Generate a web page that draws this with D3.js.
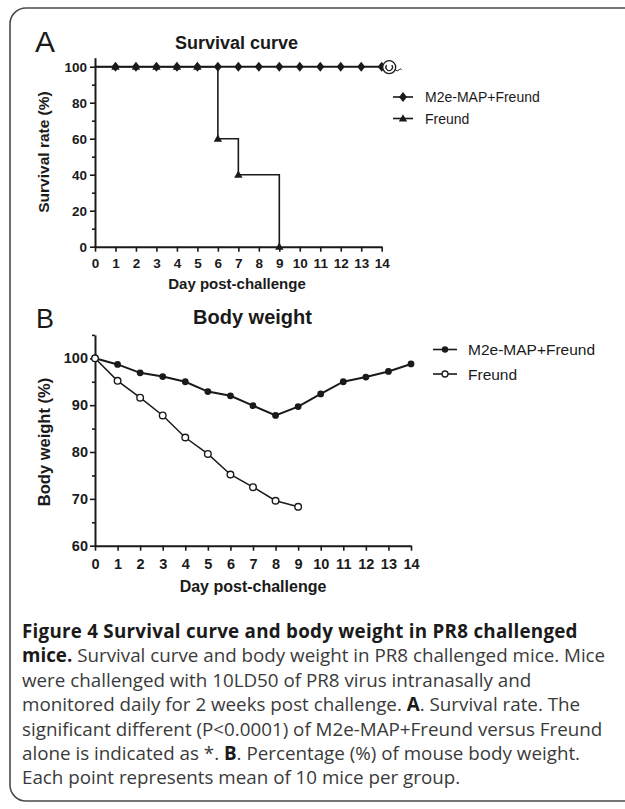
<!DOCTYPE html>
<html>
<head>
<meta charset="utf-8">
<script src="https://cdn.jsdelivr.net/npm/d3@7"></script>
<style>
  body { margin: 0; background: #fff; }
  svg { display: block; }
</style>
</head>
<body>
<svg id="fig" width="625" height="809"></svg>
<script>
// ---------- Data ----------
const days = [0,1,2,3,4,5,6,7,8,9,10,11,12,13,14];
const dayTickLabels = ["0","1","2","3","4","5","6","7","8","9","10","11","12","13","14"];

// Panel A: survival (%)
const survivalM2e = [100,100,100,100,100,100,100,100,100,100,100,100,100,100,100];
const survivalFreundDays = [0,1,2,3,4,5,6,7,9];
const survivalFreund = [100,100,100,100,100,100,60,40,0];
const survivalYTicks = [0,20,40,60,80,100];
const survivalYMinor = [10,30,50,70,90];

// Panel B: body weight (%)
const weightM2e = [100,98.7,96.9,96.1,95.0,92.9,92.0,89.9,87.8,89.7,92.4,95.0,96.0,97.2,98.8];
const weightFreundDays = [0,1,2,3,4,5,6,7,8,9];
const weightFreund = [100,95.2,91.6,87.8,83.1,79.6,75.2,72.5,69.6,68.3];
const weightYTicks = [60,70,80,90,100];
const weightYMinor = [65,75,85,95,105];

const seriesNames = ["M2e-MAP+Freund","Freund"];

// ---------- Drawing ----------
const svg = d3.select("#fig");
const CH = "'Liberation Sans', Arial, Helvetica, sans-serif";
const CAP = "'Open Sans', 'Noto Sans', sans-serif";
const ink = "#1a1a1a";

// frame
svg.append("rect").attr("x",10).attr("y",8).attr("width",640).attr("height",793)
  .attr("rx",16).attr("ry",16).attr("fill","none").attr("stroke","#4a4a4a").attr("stroke-width",1.6);

function styleAxis(g, fs) {
  g.select(".domain").attr("stroke", ink).attr("stroke-width", 2);
  g.selectAll(".tick line").attr("stroke", ink).attr("stroke-width", 1.6);
  g.selectAll(".tick text").attr("fill", ink).attr("font-family", CH)
    .attr("font-weight","bold").attr("font-size", fs);
}

// ===== Panel A =====
const xA = d3.scaleLinear().domain([0,14]).range([95,381.7]);
const yA = d3.scaleLinear().domain([0,105]).range([246.7,57.7]);

svg.append("text").attr("x",35).attr("y",52).attr("font-family",CH).attr("font-size",30)
  .attr("fill",ink).text("A");
svg.append("text").attr("x",236.5).attr("y",49).attr("text-anchor","middle")
  .attr("font-family",CH).attr("font-weight","bold").attr("font-size",18).attr("fill",ink)
  .text("Survival curve");

// minor y ticks
const gAyMinor = svg.append("g").attr("transform","translate(95,0)")
  .call(d3.axisLeft(yA).tickValues(survivalYMinor).tickSize(3).tickSizeOuter(0).tickFormat(""));
gAyMinor.select(".domain").remove();
gAyMinor.selectAll(".tick line").attr("stroke",ink).attr("stroke-width",1.6);

const gAy = svg.append("g").attr("transform","translate(95,0)")
  .call(d3.axisLeft(yA).tickValues(survivalYTicks).tickSize(5).tickSizeOuter(0).tickPadding(3));
styleAxis(gAy, 13.5);

const gAx = svg.append("g").attr("transform","translate(0,246.7)")
  .call(d3.axisBottom(xA).tickValues(days).tickFormat((d,i)=>dayTickLabels[i]).tickSize(5).tickSizeOuter(0).tickPadding(7));
styleAxis(gAx, 13.5);

svg.append("text").attr("x",237).attr("y",289).attr("text-anchor","middle")
  .attr("font-family",CH).attr("font-weight","bold").attr("font-size",15).attr("fill",ink)
  .text("Day post-challenge");
svg.append("text").attr("transform","translate(49,152) rotate(-90)").attr("text-anchor","middle")
  .attr("font-family",CH).attr("font-weight","bold").attr("font-size",15.5).attr("fill",ink)
  .text("Survival rate (%)");

const stepLine = d3.line().curve(d3.curveStepAfter).x(d=>xA(d[0])).y(d=>yA(d[1]));
const m2eSurv = days.map((d,i)=>[d,survivalM2e[i]]);
const frSurv = survivalFreundDays.map((d,i)=>[d,survivalFreund[i]]);

svg.append("path").datum(frSurv).attr("d",stepLine).attr("fill","none").attr("stroke",ink).attr("stroke-width",1.6);
svg.append("path").datum(m2eSurv).attr("d",stepLine).attr("fill","none").attr("stroke",ink).attr("stroke-width",2);

const triPath = "M0,-4.2L4.2,3L-4.2,3Z";
const diaPath = "M0,-5L4,0L0,5L-4,0Z";
svg.append("g").selectAll("path").data(frSurv.filter(d=>d[0]>0)).join("path")
  .attr("transform",d=>`translate(${xA(d[0])},${yA(d[1])})`).attr("d",triPath).attr("fill",ink);
svg.append("g").selectAll("path").data(m2eSurv.filter(d=>d[0]>0)).join("path")
  .attr("transform",d=>`translate(${xA(d[0])},${yA(d[1])})`).attr("d",diaPath).attr("fill",ink);

// censor-like mark at end of M2e curve
const endX = xA(14), endY = yA(100);
const cm = svg.append("g").attr("transform",`translate(${endX+7.5},${endY+0.5})`);
cm.append("circle").attr("r",6.5).attr("fill","#fff").attr("stroke",ink).attr("stroke-width",1.3);
cm.append("path").attr("d",d3.arc()({innerRadius:3.3,outerRadius:3.3,startAngle:0.9,endAngle:Math.PI*2-0.9}))
  .attr("fill","none").attr("stroke",ink).attr("stroke-width",1.3);
cm.append("path").attr("d","M6,2.5 Q8,5 10,2.5 Q11.5,1 12.5,2.5").attr("fill","none").attr("stroke",ink).attr("stroke-width",1);

// legend A
const legA = svg.append("g");
[[diaPath,97],[triPath,118.5]].forEach((m,i)=>{
  legA.append("line").attr("x1",393).attr("x2",413).attr("y1",m[1]).attr("y2",m[1]).attr("stroke",ink).attr("stroke-width",1.6);
  legA.append("path").attr("transform",`translate(403,${m[1]})`).attr("d",m[0]).attr("fill",ink);
  legA.append("text").attr("x",425).attr("y",m[1]+5).attr("font-family",CH).attr("font-size",14)
    .attr("fill",ink).text(seriesNames[i]);
});

// ===== Panel B =====
const xB = d3.scaleLinear().domain([0,14]).range([95,411]);
const yB = d3.scaleLinear().domain([60,105]).range([545.7,334.9]);

svg.append("text").attr("x",36).attr("y",328).attr("font-family",CH).attr("font-size",27)
  .attr("fill",ink).text("B");
svg.append("text").attr("x",252.5).attr("y",323.5).attr("text-anchor","middle")
  .attr("font-family",CH).attr("font-weight","bold").attr("font-size",20).attr("fill",ink)
  .text("Body weight");

const gByMinor = svg.append("g").attr("transform","translate(95,0)")
  .call(d3.axisLeft(yB).tickValues(weightYMinor).tickSize(3).tickSizeOuter(0).tickFormat(""));
gByMinor.select(".domain").remove();
gByMinor.selectAll(".tick line").attr("stroke",ink).attr("stroke-width",1.6);

const gBy = svg.append("g").attr("transform","translate(95,0)")
  .call(d3.axisLeft(yB).tickValues(weightYTicks).tickSize(5).tickSizeOuter(0).tickPadding(2));
styleAxis(gBy, 14.5);

const gBx = svg.append("g").attr("transform","translate(0,545.7)")
  .call(d3.axisBottom(xB).tickValues(days).tickFormat((d,i)=>dayTickLabels[i]).tickSize(5).tickSizeOuter(0).tickPadding(8));
styleAxis(gBx, 14.5);

svg.append("text").attr("x",253).attr("y",592).attr("text-anchor","middle")
  .attr("font-family",CH).attr("font-weight","bold").attr("font-size",16).attr("fill",ink)
  .text("Day post-challenge");
svg.append("text").attr("transform","translate(50,442) rotate(-90)").attr("text-anchor","middle")
  .attr("font-family",CH).attr("font-weight","bold").attr("font-size",16.5).attr("fill",ink)
  .text("Body weight (%)");

const lineB = d3.line().x(d=>xB(d[0])).y(d=>yB(d[1]));
const m2eW = days.map((d,i)=>[d,weightM2e[i]]);
const frW = weightFreundDays.map((d,i)=>[d,weightFreund[i]]);

svg.append("path").datum(m2eW).attr("d",lineB).attr("fill","none").attr("stroke",ink).attr("stroke-width",2);
svg.append("g").selectAll("circle").data(m2eW).join("circle")
  .attr("cx",d=>xB(d[0])).attr("cy",d=>yB(d[1])).attr("r",3.4).attr("fill",ink);
svg.append("path").datum(frW).attr("d",lineB).attr("fill","none").attr("stroke",ink).attr("stroke-width",1.5);
svg.append("g").selectAll("circle").data(frW).join("circle")
  .attr("cx",d=>xB(d[0])).attr("cy",d=>yB(d[1])).attr("r",3.3).attr("fill","#fff")
  .attr("stroke",ink).attr("stroke-width",1.4);

// legend B
const legB = svg.append("g");
[349.5,374].forEach((y,i)=>{
  legB.append("line").attr("x1",433).attr("x2",457).attr("y1",y).attr("y2",y).attr("stroke",ink).attr("stroke-width",1.6);
  if (i===0) legB.append("circle").attr("cx",445).attr("cy",y).attr("r",3.2).attr("fill",ink);
  else legB.append("circle").attr("cx",445).attr("cy",y).attr("r",3).attr("fill","#fff").attr("stroke",ink).attr("stroke-width",1.3);
  legB.append("text").attr("x",468).attr("y",y+5.5).attr("font-family",CH).attr("font-size",15.5)
    .attr("fill",ink).text(seriesNames[i]);
});

// ===== Caption =====
const captionLines = [
  [["b","Figure 4 Survival curve and body weight in PR8 challenged"]],
  [["b","mice."],["r"," Survival curve and body weight in PR8 challenged mice. Mice"]],
  [["r","were challenged with 10LD50 of PR8 virus intranasally and"]],
  [["r","monitored daily for 2 weeks post challenge. "],["b","A"],["r",". Survival rate. The"]],
  [["r","significant different (P<0.0001) of M2e-MAP+Freund versus Freund"]],
  [["r","alone is indicated as *. "],["b","B"],["r",". Percentage (%) of mouse body weight."]],
  [["r","Each point represents mean of 10 mice per group."]]
];
captionLines.forEach((parts,i)=>{
  const t = svg.append("text").attr("x",22).attr("y",638+i*24.4)
    .attr("font-family",CAP).attr("font-size",18.8).attr("xml:space","preserve");
  if (i===0) t.attr("letter-spacing",0.25);
  parts.forEach(p=>{
    t.append("tspan").text(p[1])
      .attr("font-weight", p[0]==="b" ? "bold" : "normal")
      .attr("fill", p[0]==="b" ? "#1a1a1a" : "#3a3a3a");
  });
});
</script>
</body>
</html>
